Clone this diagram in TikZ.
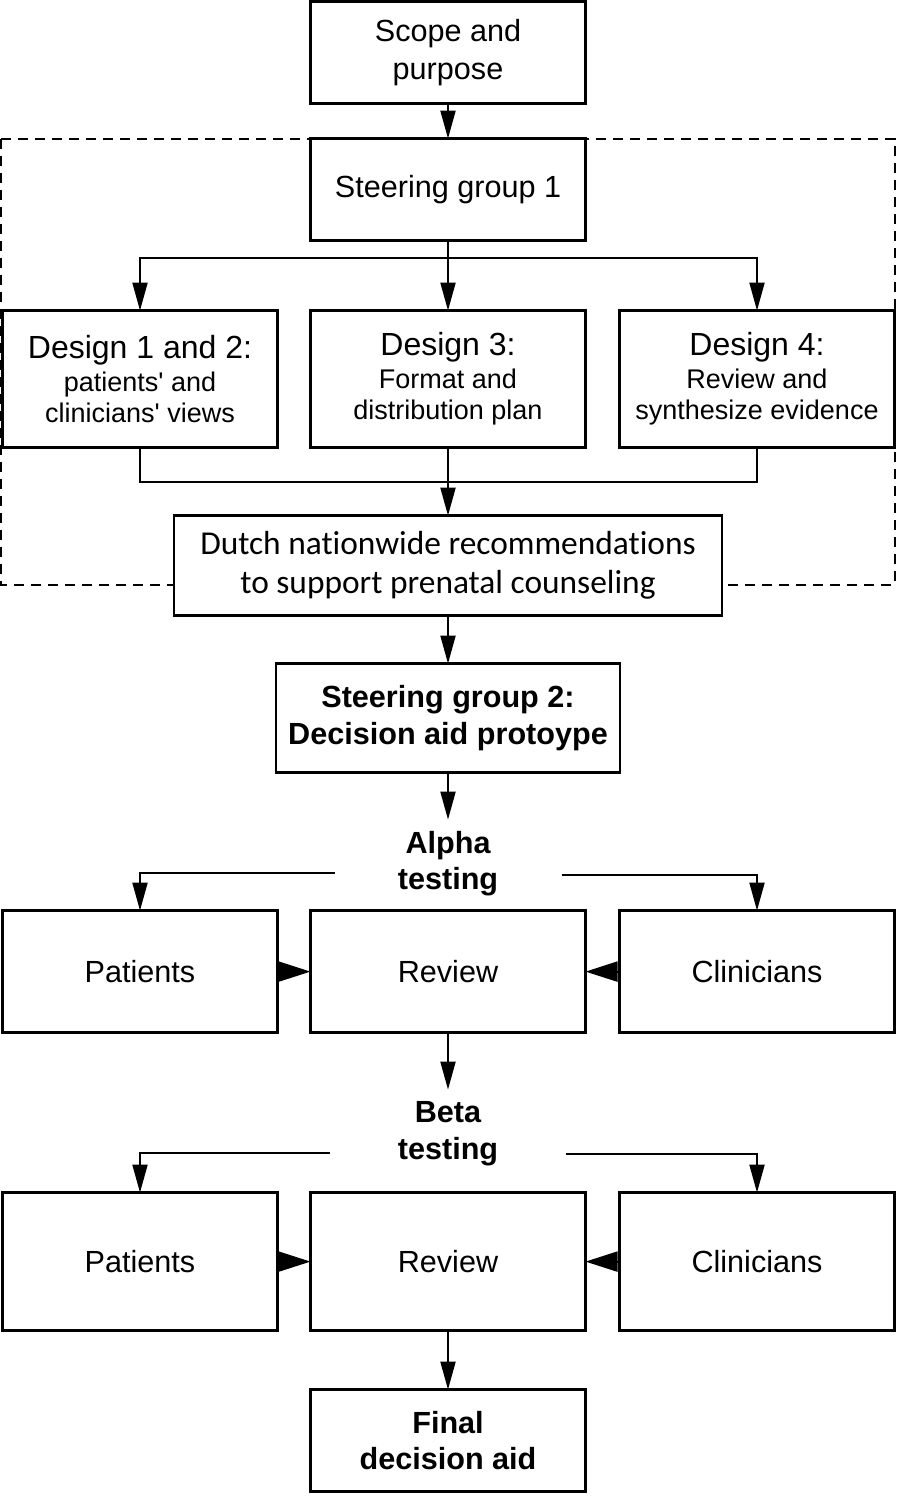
\documentclass[tikz,border=0pt]{standalone}
\usepackage{fontspec}
\setmainfont{Liberation Sans}
\newfontfamily\dutchfont[Ligatures=NoCommon]{Carlito}
\usetikzlibrary{arrows.meta,positioning,backgrounds}

\begin{document}
\begin{tikzpicture}[
  node distance=17.5pt,
  stage/.style={
    rectangle, draw=black, line width=1.3pt, fill=white,
    minimum width=137.5pt, minimum height=51pt, align=center,
    inner sep=2pt, outer sep=0pt, font=\fontsize{15.3}{19}\selectfont
  },
  design/.style={stage, minimum height=68.5pt, font=\fontsize{13.5}{15.5}\selectfont},
  bold/.style={stage, font=\fontsize{15.3}{18.3}\selectfont\bfseries},
  phase/.style={
    align=center, minimum width=113.5pt, minimum height=44pt,
    inner sep=0pt, outer sep=0pt, font=\fontsize{15.3}{18.3}\selectfont\bfseries
  },
  arr/.style={-{Triangle[length=14pt,width=7.5pt]}, line width=1pt},
  side/.style={-{Triangle[length=16pt,width=10pt]}, line width=1pt},
]
\useasboundingbox (0,0) rectangle (448pt,-748.5pt);

% -- Nodes --
\node[stage, anchor=north] (scope) at (224pt,-0.8pt) {Scope and\\purpose};
\node[stage, below=17.5pt of scope] (sg1) {Steering group 1};

\node[design, below=35pt of sg1] (des3)
  {{\fontsize{16}{17}\selectfont Design 3:}\\[1pt]Format and\\distribution plan};
\node[design, left=16.5pt of des3] (des12)
  {{\fontsize{16}{17}\selectfont Design 1 and 2:}\\[1pt]patients\textquotesingle{} and\\clinicians\textquotesingle{} views};
\node[design, right=17pt of des3] (des4)
  {{\fontsize{16}{17}\selectfont Design 4:}\\[1pt]Review and\\synthesize evidence};

\node[stage, below=34pt of des3, minimum width=274pt, minimum height=50pt,
  font=\dutchfont\fontsize{16.7}{19.5}\selectfont] (dutch)
  {Dutch nationwide recommendations\\to support prenatal counseling};

\node[bold, below=24pt of dutch, minimum width=172pt, minimum height=54.5pt] (sg2)
  {Steering group 2:\\Decision aid protoype};

\node[phase, below=23.5pt of sg2] (alpha) {Alpha\\testing};
\node[stage, below=1.5pt of alpha, minimum height=61pt] (rev1) {Review};
\node[stage, left=16.5pt of rev1, minimum height=61pt] (pat1) {Patients};
\node[stage, right=17pt of rev1, minimum height=61pt] (cli1) {Clinicians};

\node[phase, below=28.5pt of rev1, minimum width=118pt] (beta) {Beta\\testing};
\node[stage, below=7.5pt of beta, minimum height=69pt] (rev2) {Review};
\node[stage, left=16.5pt of rev2, minimum height=69pt] (pat2) {Patients};
\node[stage, right=17pt of rev2, minimum height=69pt] (cli2) {Clinicians};

\node[bold, below=29.5pt of rev2] (final) {Final\\decision aid};

% -- Dashed frame --
\begin{scope}[on background layer]
\draw[line width=1pt, dash pattern=on 5pt off 3.5pt]
  ([xshift=-0.6pt]des12.west |- sg1.north) rectangle ([yshift=15.5pt]des4.east |- dutch.south);
\end{scope}

% -- Edges --
\draw[arr] (scope) -- (sg1);
\draw[arr] (sg1) -- (des3);
\draw[arr] (sg1.south) -- ++(0,-8.5pt) -| (des12.north);
\draw[arr] (sg1.south) -- ++(0,-8.5pt) -| (des4.north);
\draw[line width=1pt] (des12.south) -- ++(0,-17pt) -| (des4.south);
\draw[arr] (des3) -- (dutch);
\draw[arr] (dutch) -- (sg2);
\draw[arr] (sg2) -- (alpha);
\draw[arr] ([yshift=-4.5pt]alpha.west) -| (pat1.north);
\draw[arr] ([yshift=-5.5pt]alpha.east) -| (cli1.north);
\draw[side] (pat1) -- (rev1);
\draw[side] (cli1) -- (rev1);
\draw[arr] (rev1) -- (beta);
\draw[arr] ([yshift=-9.5pt]beta.west) -| (pat2.north);
\draw[arr] ([yshift=-10pt]beta.east) -| (cli2.north);
\draw[side] (pat2) -- (rev2);
\draw[side] (cli2) -- (rev2);
\draw[arr] (rev2) -- (final);
\end{tikzpicture}
\end{document}
